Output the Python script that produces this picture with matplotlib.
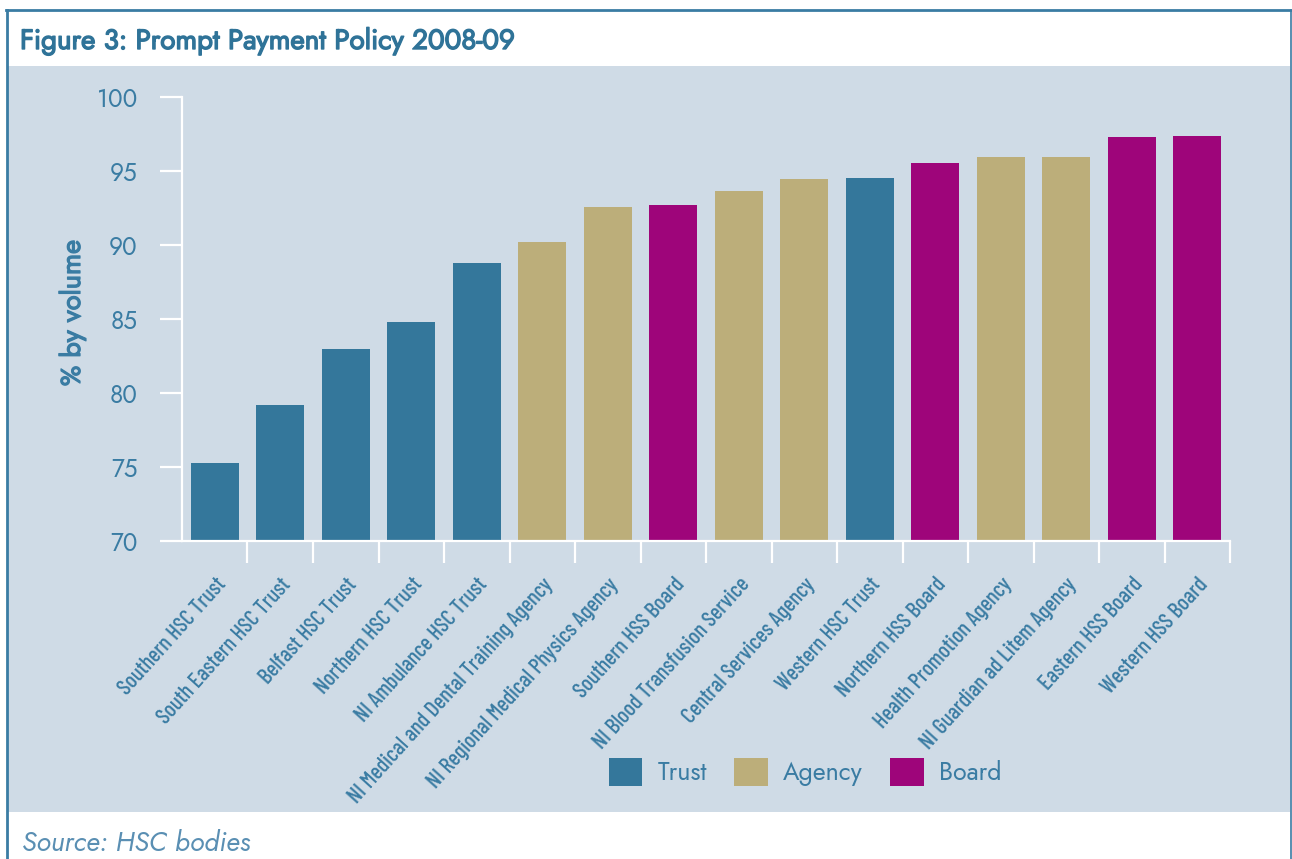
import matplotlib.pyplot as plt
from matplotlib.patches import Patch, Rectangle
from matplotlib.lines import Line2D
import matplotlib.patheffects as pe
import numpy as np

# data
bodies = ["Southern HSC Trust", "South Eastern HSC Trust", "Belfast HSC Trust",
          "Northern HSC Trust", "NI Ambulance HSC Trust",
          "NI Medical and Dental Training Agency", "NI Regional Medical Physics Agency",
          "Southern HSS Board", "NI Blood Transfusion Service", "Central Services Agency",
          "Western HSC Trust", "Northern HSS Board", "Health Promotion Agency",
          "NI Guardian ad Litem Agency", "Eastern HSS Board", "Western HSS Board"]
pct_volume = [75.3, 79.2, 83.0, 84.8, 88.8, 90.2, 92.6, 92.7, 93.65, 94.45,
              94.5, 95.55, 95.95, 95.95, 97.3, 97.35]
body_type = ["Trust", "Trust", "Trust", "Trust", "Trust", "Agency", "Agency", "Board",
             "Agency", "Agency", "Trust", "Board", "Agency", "Agency", "Board", "Board"]
type_names = ["Trust", "Agency", "Board"]
y_ticks = [70, 75, 80, 85, 90, 95, 100]

type_colours = {"Trust": "#34779b", "Agency": "#bcae7a", "Board": "#9e057a"}
bg = "#cfdbe6"
txt = "#3a7ca3"

plt.rcParams['font.family'] = ['Jost', 'DejaVu Sans']

W, H = 1292, 859
fig = plt.figure(figsize=(W / 100, H / 100), dpi=100)
fig.patch.set_facecolor("white")

# background panel and frame
fig.patches.append(Rectangle((8 / W, 1 - 812 / H), (1290 - 8) / W, (812 - 66) / H,
                             transform=fig.transFigure, facecolor=bg, edgecolor="none",
                             zorder=-10))
fig.lines.append(Line2D([7 / W, 7 / W], [0, 1 - 10 / H], transform=fig.transFigure,
                        color="#3a7ca3", lw=2))
fig.lines.append(Line2D([6 / W, 1291 / W], [1 - 10 / H, 1 - 10 / H], transform=fig.transFigure,
                        color="#3a7ca3", lw=2))
fig.lines.append(Line2D([1291 / W, 1291 / W], [0, 1 - 10 / H], transform=fig.transFigure,
                        color="#3a7ca3", lw=1.2))

ax = fig.add_axes([182 / W, 1 - 541 / H, (1230 - 182) / W, (541 - 97) / H])
ax.set_facecolor("none")

x = np.arange(len(bodies))
ax.bar(x, [v - 70 for v in pct_volume], bottom=70, width=0.73,
       color=[type_colours[t] for t in body_type], zorder=2)

ax.set_xlim(-0.5, len(bodies) - 0.5)
ax.set_ylim(70, 100)
ax.set_yticks(y_ticks)
ax.set_yticklabels([str(v) for v in y_ticks], color=txt, fontsize=17.5)

for s in ["top", "right"]:
    ax.spines[s].set_visible(False)
for s in ["left", "bottom"]:
    ax.spines[s].set_color("white")
    ax.spines[s].set_linewidth(1.6)
    ax.spines[s].set_zorder(3)

ax.tick_params(axis="y", length=16, width=1.6, color="white", pad=16)

ax.set_xticks(x)
ax.set_xticklabels(bodies, rotation=48, ha="right", va="top", rotation_mode="anchor",
                   color=txt, fontsize=16, fontweight=500,
                   family=['Barlow Condensed', 'DejaVu Sans'])
ax.tick_params(axis="x", which="major", length=0, pad=24)
ax.set_xticks(list(x[1:] - 0.5) + [len(bodies) - 0.5], minor=True)
ax.tick_params(axis="x", which="minor", length=16, width=1.6, color="white")

bold = [pe.withStroke(linewidth=0.9, foreground=txt)]
fig.text(72 / W, 1 - 313 / H, "% by volume", rotation=90, ha="center", va="center",
         color=txt, fontsize=19.5, path_effects=bold)

fig.text(20 / W, 1 - 41 / H, "Figure 3: Prompt Payment Policy 2008-09", ha="left",
         va="center", color="#2f7398", fontsize=20,
         path_effects=[pe.withStroke(linewidth=1.0, foreground="#2f7398")])
fig.text(22 / W, 1 - 843 / H, "Source: HSC bodies", ha="left", va="center",
         color="#5a8fb3", fontsize=19.5, style="italic")

handles = [Patch(facecolor=type_colours[t], edgecolor="none") for t in type_names]
fig.legend(handles, type_names, loc="center", bbox_to_anchor=(805 / W, 1 - 772 / H),
           ncol=3, frameon=False, fontsize=18, handlelength=1.35, handleheight=1.35,
           handletextpad=0.6, columnspacing=1.1, labelcolor=txt)

fig.savefig("out.png", dpi=100, facecolor="white")
